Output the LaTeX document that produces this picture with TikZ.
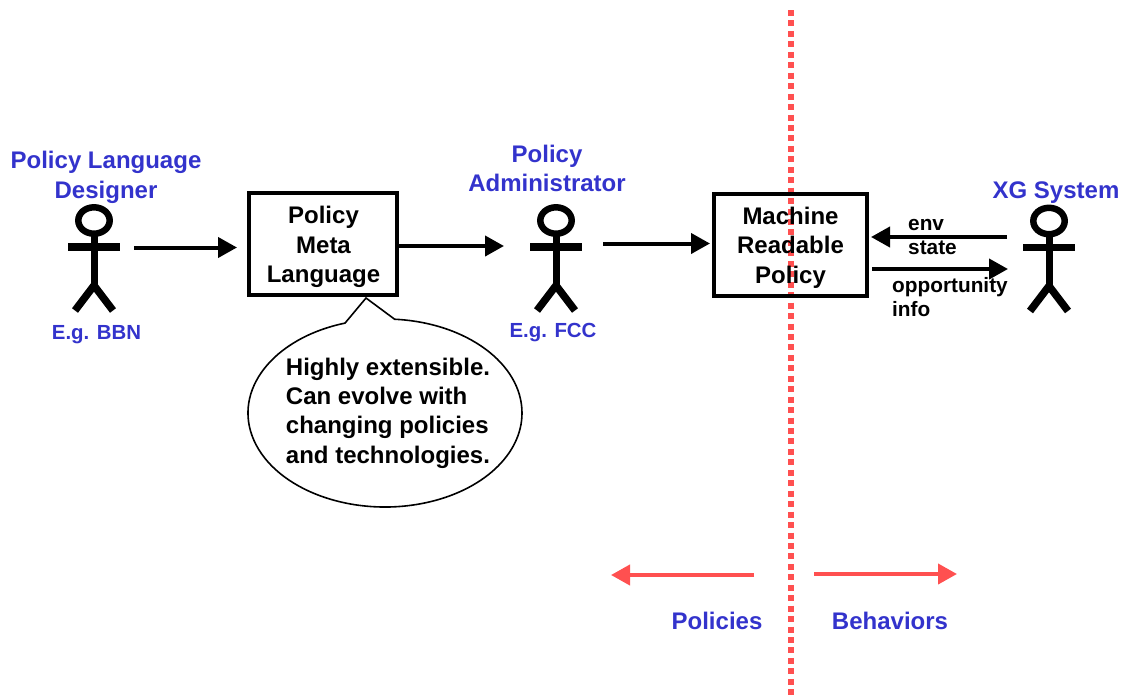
\documentclass[tikz,border=0pt]{standalone}
\usepackage{fontspec}
\setmainfont{Liberation Sans}
\usetikzlibrary{arrows.meta,shapes.callouts}
\definecolor{titleblue}{RGB}{51,51,204}
\definecolor{dividerred}{RGB}{255,80,80}
\tikzset{
  flow/.style={line width=4pt,-{Triangle[length=19pt,width=20pt]}},
  redflow/.style={flow,color=dividerred},
  actorlabel/.style={color=titleblue,font=\bfseries\fontsize{24}{29.5}\selectfont,align=center,inner sep=0pt},
  examplelabel/.style={color=titleblue,font=\bfseries\fontsize{20.4}{25}\selectfont,inner sep=0pt},
  sidelabel/.style={color=titleblue,font=\bfseries\fontsize{24}{29}\selectfont,inner sep=0pt},
  policybox/.style={draw,line width=4pt,inner sep=0pt},
  boxtext/.style={align=center,font=\bfseries\fontsize{24}{29.3}\selectfont,inner sep=0pt},
  flowlabel/.style={anchor=base west,font=\bfseries\fontsize{20.8}{25}\selectfont,inner sep=0pt},
  stickman/.pic={
    \draw[line width=6.5pt] (0,0) ellipse [x radius=15.7,y radius=13.2];
    \draw[line width=7.5pt] (-26,26.5)--(26,26.5);
    \draw[line width=7pt] (0,14)--(0,65);
    \draw[line width=7.5pt] (-19,90)--(0,65)--(19,90);
  }
}
\begin{document}
\begin{tikzpicture}[x=1pt,y=-1pt]
\useasboundingbox (0,0) rectangle (1123,696);
\coordinate (top) at (791,10);
\coordinate (bottom) at (791,696);
\draw[color=dividerred,line width=6pt,dash pattern=on 6pt off 4.45pt] (top)--(bottom);

\pic at (94,220.5) {stickman};
\pic at (556,220.5) {stickman};
\pic at (1049,221) {stickman};

\node[actorlabel] (designer) at (106,177.5) {Policy Language\\Designer};
\node[examplelabel,anchor=base] (bbn) at (96.5,339) {E.g. BBN};
\node[actorlabel] (admin) at (547,168.5) {Policy\\Administrator};
\node[examplelabel,anchor=base] (fcc) at (553,337) {E.g. FCC};
\node[actorlabel,anchor=base] (xg) at (1056,198) {XG System};

\node[policybox,minimum width=148pt,minimum height=102pt] (meta) at (323,244) {};
\node[boxtext] (metatext) at (323.5,247) {Policy\\Meta\\Language};
\node[policybox,minimum width=153pt,minimum height=102pt] (machine) at (790.5,245) {};
\node[boxtext] (machinetext) at (790.5,247.5) {Machine\\Readable\\Policy};

\node[draw,line width=1.6pt,ellipse callout,minimum width=274pt,minimum height=188pt,
  callout absolute pointer={(366,298)},callout pointer arc=21] (bubble) at (385,413) {};
\node[anchor=center,align=left,inner sep=0pt,font=\bfseries\fontsize{24}{29.3}\selectfont] (bubbletext) at (388,413) {Highly extensible.\\Can evolve with\\changing policies\\and technologies.};

\coordinate (designer out) at (134,247.5);
\coordinate (admin in) at (504,246);
\coordinate (admin out) at (603,243.5);
\coordinate (xg out) at (1007,237);
\coordinate (xg in) at (1008,269);
\draw[flow,shorten >=10pt] (designer out)--(designer out -| meta.west);
\draw[flow] (admin in -| meta.east)--(admin in);
\draw[flow,shorten >=2pt] (admin out)--(admin out -| machine.west);
\draw[flow,shorten >=2pt] (xg out)--(xg out -| machine.east);
\draw[flow,shorten <=3pt] (xg in -| machine.east)--(xg in);

\node[flowlabel] (env) at (908,230) {env};
\node[flowlabel] (state) at (908,254) {state};
\node[flowlabel] (opportunity) at (892,292) {opportunity};
\node[flowlabel] (info) at (892,316) {info};

\coordinate (policies start) at (754,575);
\coordinate (policies end) at (611,575);
\coordinate (behaviors start) at (814,574);
\coordinate (behaviors end) at (957,574);
\draw[redflow] (policies start)--(policies end);
\draw[redflow] (behaviors start)--(behaviors end);
\node[sidelabel,anchor=base] (policies) at (717,629) {Policies};
\node[sidelabel,anchor=base] (behaviors) at (890,629) {Behaviors};
\end{tikzpicture}
\end{document}
